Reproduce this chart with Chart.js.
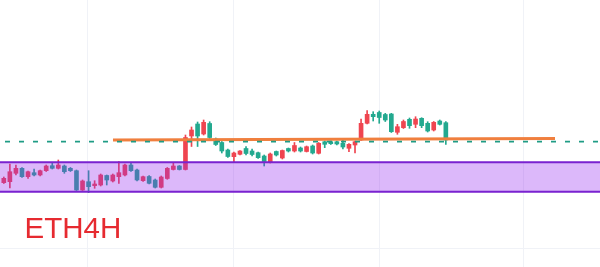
<!DOCTYPE html>
<html><head><meta charset="utf-8">
<script src="https://cdn.jsdelivr.net/npm/chart.js@4.4.1/dist/chart.umd.min.js"></script>
<style>
html,body{margin:0;padding:0;background:#fff;}
#wrap{position:relative;width:600px;height:267px;overflow:hidden;}
#label{position:absolute;left:24.5px;top:212.9px;font:29.5px/30px "Liberation Sans",Arial,sans-serif;color:#e62a30;white-space:nowrap;}
</style></head><body>
<div id="wrap"><canvas id="c" width="600" height="267"></canvas><div id="label">ETH4H</div></div>
<script>
const opens = [1843,1853,1937,1987,1903,1943,1920,1963,2013,1987,
2010,1987,1963,1770,1853,1813,1820,1915,1860,1903,
1920,2020,1970,1863,1905,1870,1797,1885,1975,2010,
1975,2310,2430,2330,2435,2280,2245,2170,2103,2127,
2185,2160,2143,2110,2050,2155,2090,2185,2160,2190,
2155,2210,2137,2253,2253,2253,2237,2187,2220,2270,
2437,2527,2545,2525,2530,2347,2393,2477,2427,2487,
2437,2370,2460,2443];
const highs = [1900,2030,2020,1995,1960,1980,1970,2020,2037,2070,
2020,1995,1970,1870,1963,1863,1930,1920,1930,2053,
2030,2043,1980,1910,1915,1880,1910,1995,2040,2015,
2320,2400,2450,2470,2453,2290,2255,2180,2150,2165,
2203,2180,2150,2120,2140,2160,2170,2190,2245,2200,
2210,2220,2245,2260,2260,2260,2270,2235,2260,2480,
2565,2553,2560,2537,2537,2427,2470,2490,2503,2493,
2453,2455,2470,2453];
const lows = [1835,1790,1920,1895,1887,1910,1910,1955,1980,1980,
1937,1955,1765,1765,1743,1787,1810,1820,1850,1837,
1910,1955,1860,1855,1830,1790,1790,1877,1970,1970,
1970,2205,2205,2320,2285,2215,2140,2095,2045,2120,
2120,2110,2085,2010,2040,2110,2080,2150,2150,2150,
2150,2130,2130,2193,2225,2220,2180,2153,2140,2265,
2430,2460,2437,2455,2345,2327,2385,2387,2393,2393,
2350,2360,2420,2227];
const closes = [1887,1953,1987,1903,1953,1920,1963,2010,1987,2020,
1953,1963,1770,1860,1803,1830,1920,1870,1920,1943,
2020,1963,1870,1903,1837,1797,1900,1987,2010,1975,
2295,2370,2310,2447,2295,2225,2160,2105,2140,2160,
2135,2125,2093,2055,2130,2120,2165,2160,2215,2160,
2203,2140,2237,2227,2233,2230,2200,2227,2253,2437,
2527,2503,2495,2470,2353,2403,2455,2413,2480,2413,
2360,2447,2427,2270];

// levels (price units)
const bandTop = 2047, bandBottom = 1753;
const dashedLevel = 2254;
const orangeLine = [{x:18.03, y:2270},{x:91.03, y:2286}];
// axis ranges & grid positions
const xRange = [-0.63, 98.46];
const yRange = [1000, 3670];
const xGrid = [13.75, 37.85, 61.95, 85.75];
const yGrid = [1190];

const UP = '#ef4550', DOWN = '#23a98f';
const idx = opens.map((_, i) => i);
const cols = idx.map(i => closes[i] >= opens[i] ? UP : DOWN);

const gridPlugin = {
  id: 'grid',
  beforeDatasetsDraw(chart) {
    const {ctx, chartArea: a, scales: {x, y}} = chart;
    ctx.save();
    ctx.strokeStyle = '#f0f2f7';
    ctx.lineWidth = 1;
    xGrid.forEach(v => { const px = Math.round(x.getPixelForValue(v)) + 0.5; ctx.beginPath(); ctx.moveTo(px, a.top); ctx.lineTo(px, a.bottom); ctx.stroke(); });
    yGrid.forEach(v => { const py = Math.round(y.getPixelForValue(v)) + 0.5; ctx.beginPath(); ctx.moveTo(a.left, py); ctx.lineTo(a.right, py); ctx.stroke(); });
    ctx.restore();
  }
};
const bandPlugin = {
  id: 'band',
  afterDatasetsDraw(chart) {
    const {ctx, chartArea: a, scales: {y}} = chart;
    const t = y.getPixelForValue(bandTop), b = y.getPixelForValue(bandBottom);
    ctx.save();
    ctx.fillStyle = 'rgba(150,40,240,0.33)';
    ctx.fillRect(a.left, t, a.right - a.left, b - t);
    ctx.strokeStyle = '#7a22d0';
    ctx.lineWidth = 2;
    ctx.beginPath();
    ctx.moveTo(a.left, t); ctx.lineTo(a.right, t);
    ctx.moveTo(a.left, b); ctx.lineTo(a.right, b);
    ctx.stroke();
    ctx.restore();
  }
};

new Chart(document.getElementById('c'), {
  type: 'bar',
  data: {
    datasets: [
      { type: 'line', data: [{x: xRange[0], y: dashedLevel}, {x: xRange[1], y: dashedLevel}],
        borderColor: '#1f9c85', borderWidth: 1.6, borderDash: [5, 9], borderDashOffset: 9,
        pointRadius: 0, order: 0 },
      { type: 'line', data: orangeLine, borderColor: '#f07f3e', borderWidth: 3,
        pointRadius: 0, order: 1 },
      { data: idx.map(i => ({x: i, y: [opens[i], closes[i]]})), backgroundColor: cols,
        barThickness: 4, grouped: false, order: 2 },
      { data: idx.map(i => ({x: i, y: [lows[i], highs[i]]})), backgroundColor: cols,
        barThickness: 1, grouped: false, order: 3 }
    ]
  },
  options: {
    responsive: false,
    animation: false,
    layout: { padding: 0 },
    plugins: { legend: { display: false }, tooltip: { enabled: false } },
    scales: {
      x: { type: 'linear', display: false, min: xRange[0], max: xRange[1], offset: false },
      y: { type: 'linear', display: false, min: yRange[0], max: yRange[1] }
    }
  },
  plugins: [gridPlugin, bandPlugin]
});
</script>
</body></html>
